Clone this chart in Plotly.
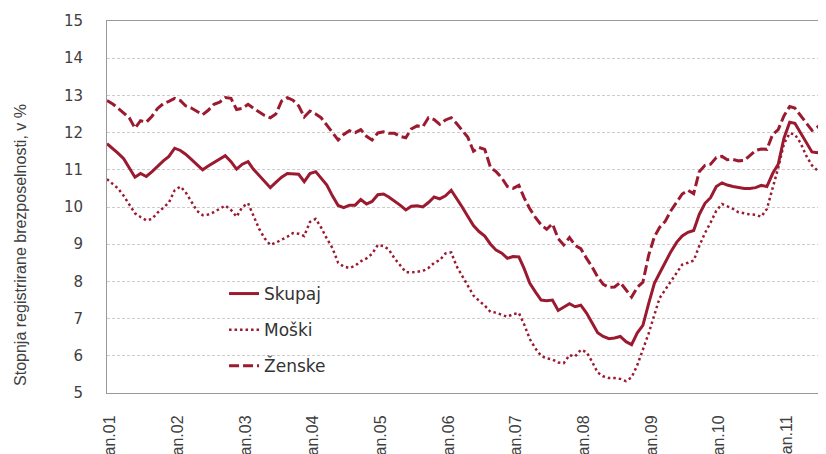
import plotly.graph_objects as go
import pandas as pd

# Monthly registered unemployment rate (%), Jan 2001 onward
months = pd.date_range("2001-01-01", periods=129, freq="MS")

skupaj = [
    11.70, 11.58, 11.45, 11.30, 11.06, 10.80, 10.90, 10.82, 10.95, 11.10, 11.24, 11.36,
    11.58, 11.52, 11.42, 11.28, 11.14, 11.00, 11.10, 11.20, 11.28, 11.38, 11.22, 11.02,
    11.15, 11.22, 11.02, 10.86, 10.68, 10.52, 10.66, 10.80, 10.90, 10.90, 10.88, 10.68,
    10.90, 10.95, 10.78, 10.59, 10.30, 10.04, 9.98, 10.05, 10.05, 10.20, 10.08, 10.15,
    10.33, 10.35, 10.27, 10.17, 10.05, 9.92, 10.02, 10.03, 10.00, 10.12, 10.27, 10.22,
    10.30, 10.45, 10.25, 10.00, 9.75, 9.50, 9.34, 9.22, 9.00, 8.84, 8.76, 8.62,
    8.67, 8.66, 8.35, 7.95, 7.72, 7.50, 7.48, 7.50, 7.22, 7.30, 7.40, 7.32,
    7.36, 7.15, 6.90, 6.62, 6.52, 6.46, 6.48, 6.52, 6.38, 6.30, 6.62, 6.82,
    7.40, 7.95, 8.22, 8.52, 8.80, 9.05, 9.22, 9.32, 9.37, 9.80, 10.10, 10.25,
    10.55, 10.65, 10.59, 10.55, 10.52, 10.50, 10.50, 10.52, 10.58, 10.55, 10.90, 11.15,
    11.85, 12.28, 12.25, 12.00, 11.75, 11.48, 11.46, 11.52, 11.55,
]

moski = [
    10.75, 10.63, 10.50, 10.30, 10.06, 9.83, 9.73, 9.64, 9.68, 9.85, 9.98, 10.12,
    10.45, 10.55, 10.40, 10.16, 9.90, 9.78, 9.80, 9.86, 9.94, 10.04, 9.92, 9.74,
    10.00, 10.10, 9.78, 9.42, 9.16, 8.98, 9.04, 9.12, 9.20, 9.30, 9.28, 9.22,
    9.60, 9.68, 9.45, 9.15, 8.90, 8.50, 8.40, 8.36, 8.42, 8.54, 8.62, 8.74,
    8.98, 8.95, 8.86, 8.62, 8.44, 8.25, 8.24, 8.26, 8.28, 8.36, 8.50, 8.57,
    8.75, 8.78, 8.42, 8.15, 7.90, 7.62, 7.48, 7.35, 7.18, 7.16, 7.10, 7.05,
    7.12, 7.15, 6.85, 6.45, 6.20, 6.00, 5.93, 5.90, 5.82, 5.80, 6.02, 5.98,
    6.16, 6.10, 5.85, 5.55, 5.45, 5.40, 5.40, 5.38, 5.32, 5.42, 5.75, 6.15,
    6.60, 7.10, 7.55, 7.78, 8.00, 8.25, 8.45, 8.50, 8.56, 8.95, 9.30, 9.58,
    9.90, 10.08, 10.02, 9.95, 9.86, 9.82, 9.80, 9.79, 9.74, 9.95, 10.48, 11.05,
    11.70, 11.98, 11.95, 11.72, 11.38, 11.12, 10.98, 11.00, 11.02,
]

zenske = [
    12.86, 12.77, 12.66, 12.53, 12.40, 12.12, 12.32, 12.28, 12.44, 12.65, 12.78, 12.84,
    12.92, 12.86, 12.72, 12.66, 12.56, 12.48, 12.60, 12.76, 12.82, 12.94, 12.92, 12.62,
    12.65, 12.76, 12.66, 12.56, 12.46, 12.40, 12.50, 12.85, 12.94, 12.87, 12.72, 12.42,
    12.58, 12.50, 12.40, 12.20, 12.00, 11.80, 11.95, 12.05, 12.00, 12.08, 11.90, 11.80,
    11.99, 12.02, 11.98, 11.98, 11.90, 11.86, 12.10, 12.18, 12.16, 12.40, 12.35, 12.22,
    12.34, 12.40, 12.25, 12.05, 11.88, 11.50, 11.60, 11.55, 11.06, 10.95, 10.78, 10.55,
    10.50, 10.58, 10.25, 9.95, 9.72, 9.52, 9.40, 9.55, 9.15, 8.98, 9.18, 8.97,
    8.88, 8.62, 8.40, 8.12, 7.92, 7.84, 7.85, 7.97, 7.77, 7.58, 7.84, 7.98,
    8.70, 9.20, 9.45, 9.62, 9.90, 10.12, 10.35, 10.45, 10.36, 10.95, 11.12, 11.15,
    11.33, 11.36, 11.27, 11.28, 11.24, 11.25, 11.39, 11.52, 11.56, 11.55, 11.95, 12.08,
    12.45, 12.70, 12.66, 12.46, 12.28, 12.06, 12.15, 12.29, 12.32,
]

tick_dates = ["2001-01-01", "2002-01-01", "2003-01-01", "2004-01-01", "2005-01-01",
              "2006-01-01", "2007-01-01", "2008-01-01", "2009-01-01", "2010-01-01",
              "2011-01-01"]
tick_labels = ["jan.01", "jan.02", "jan.03", "jan.04", "jan.05", "jan.06",
               "jan.07", "jan.08", "jan.09", "jan.10", "jan.11"]
y_ticks = [5, 6, 7, 8, 9, 10, 11, 12, 13, 14, 15]

RED = "#9b1a30"
TXT = "#404040"

fig = go.Figure()
fig.add_trace(go.Scatter(x=months, y=skupaj, name="Skupaj", mode="lines",
                         line=dict(color=RED, width=3), legendgroup="a"))
fig.add_trace(go.Scatter(x=months, y=moski, name="Moški", mode="lines",
                         line=dict(color=RED, width=2.5, dash="2.5px,3px"), legendgroup="b"))
fig.add_trace(go.Scatter(x=months, y=zenske, name="Ženske", mode="lines",
                         line=dict(color=RED, width=3, dash="10px,4px"), legendgroup="c"))

fig.update_layout(
    width=826, height=454,
    margin=dict(l=99, r=0, t=13, b=69, autoexpand=False),
    paper_bgcolor="white", plot_bgcolor="white",
    showlegend=True,
    legend=dict(x=0.161, y=0.3145, xanchor="left", yanchor="top",
                bgcolor="rgba(255,255,255,0)", traceorder="grouped",
                tracegroupgap=11,
                font=dict(family="DejaVu Sans", size=17, color="#333333")),
    shapes=[dict(type="rect", xref="paper", yref="paper",
                 x0=0.018, x1=0.403, y0=0.0134, y1=0.344,
                 fillcolor="white", line=dict(width=0), layer="between")],
    annotations=[dict(text="Stopnja registrirane brezposelnosti, v %",
                      xref="paper", yref="paper", x=-0.1183, y=0.398,
                      xanchor="center", yanchor="middle", textangle=-90,
                      showarrow=False,
                      font=dict(family="Liberation Sans", size=16, color=TXT))],
)

fig.update_xaxes(
    range=["2001-01-01", "2011-09-28"], automargin=False,
    tickmode="array", tickvals=tick_dates, ticktext=tick_labels,
    tickangle=-90, ticks="", ticklabelstandoff=15, ticklabelshift=3,
    tickfont=dict(family="Liberation Sans", size=16, color=TXT),
    showgrid=False, zeroline=False,
    showline=True, linecolor="#999999", linewidth=1, mirror=True,
)
fig.update_yaxes(
    range=[5, 15], automargin=False, tickmode="array", tickvals=y_ticks,
    ticks="", ticklabelstandoff=20,
    tickfont=dict(family="DejaVu Sans", size=15, color=TXT),
    showgrid=True, gridcolor="#cccccc", gridwidth=1, griddash="3px,2px",
    zeroline=False, showline=True, linecolor="#999999", linewidth=1,
)

fig.write_html("out.html")
